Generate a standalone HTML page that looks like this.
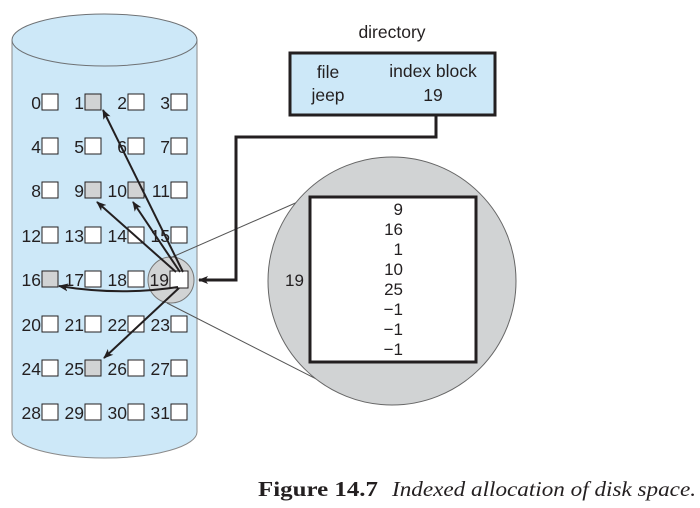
<!DOCTYPE html>
<html><head><meta charset="utf-8"><style>
html,body{margin:0;padding:0;background:#fff;}
svg{display:block;}
text{font-family:"Liberation Sans",sans-serif;fill:#231f20;}
</style></head><body>
<svg width="700" height="508" viewBox="0 0 700 508" xmlns="http://www.w3.org/2000/svg">
<defs>
<marker id="ah" markerWidth="10" markerHeight="8" refX="9" refY="4" orient="auto" markerUnits="userSpaceOnUse">
<path d="M0,0 L10,4 L0,8 L2.5,4 Z" fill="#231f20"/>
</marker>
</defs>
<path d="M12,40 L12,432 A92.5,26 0 0 0 197,432 L197,40 Z" fill="#cde8f8" stroke="#8a8a8a" stroke-width="1"/>
<ellipse cx="104.5" cy="40" rx="92.5" ry="26" fill="#cde8f8" stroke="#6f7275" stroke-width="1"/>
<ellipse cx="171" cy="280" rx="23" ry="23" fill="#d1d3d4" stroke="#777" stroke-width="1"/>
<line x1="170" y1="258" x2="300" y2="201" stroke="#555" stroke-width="1"/>
<line x1="167" y1="303" x2="334" y2="388" stroke="#555" stroke-width="1"/>
<circle cx="392" cy="281" r="124" fill="#d1d3d4" stroke="#666" stroke-width="1"/>
<rect x="310" y="197" width="166" height="165" fill="#fff" stroke="#231f20" stroke-width="3"/>
<g font-size="17" text-anchor="end">
<text x="403" y="215">9</text><text x="403" y="235">16</text><text x="403" y="255">1</text>
<text x="403" y="275">10</text><text x="403" y="295">25</text><text x="403" y="315">−1</text>
<text x="403" y="335">−1</text><text x="403" y="355">−1</text>
</g>
<text x="285" y="286" font-size="17">19</text>
<g stroke="#231f20" stroke-width="1" fill="#fff">
<rect x="42" y="94" width="16" height="16"/><rect x="85" y="94" width="16" height="16" fill="#d1d3d4"/><rect x="128" y="94" width="16" height="16"/><rect x="171" y="94" width="16" height="16"/>
<rect x="42" y="138" width="16" height="16"/><rect x="85" y="138" width="16" height="16"/><rect x="128" y="138" width="16" height="16"/><rect x="171" y="138" width="16" height="16"/>
<rect x="42" y="182" width="16" height="16"/><rect x="85" y="182" width="16" height="16" fill="#d1d3d4"/><rect x="128" y="182" width="16" height="16" fill="#d1d3d4"/><rect x="171" y="182" width="16" height="16"/>
<rect x="42" y="227" width="16" height="16"/><rect x="85" y="227" width="16" height="16"/><rect x="128" y="227" width="16" height="16"/><rect x="171" y="227" width="16" height="16"/>
<rect x="42" y="271" width="16" height="16" fill="#d1d3d4"/><rect x="85" y="271" width="16" height="16"/><rect x="128" y="271" width="16" height="16"/><rect x="170" y="271" width="18" height="17"/>
<rect x="42" y="316" width="16" height="16"/><rect x="85" y="316" width="16" height="16"/><rect x="128" y="316" width="16" height="16"/><rect x="171" y="316" width="16" height="16"/>
<rect x="42" y="360" width="16" height="16"/><rect x="85" y="360" width="16" height="16" fill="#d1d3d4"/><rect x="128" y="360" width="16" height="16"/><rect x="171" y="360" width="16" height="16"/>
<rect x="42" y="404" width="16" height="16"/><rect x="85" y="404" width="16" height="16"/><rect x="128" y="404" width="16" height="16"/><rect x="171" y="404" width="16" height="16"/>
</g>
<g font-size="17.5" text-anchor="end">
<text x="41" y="109">0</text><text x="84" y="109">1</text><text x="127" y="109">2</text><text x="170" y="109">3</text>
<text x="41" y="153">4</text><text x="84" y="153">5</text><text x="127" y="153">6</text><text x="170" y="153">7</text>
<text x="41" y="197">8</text><text x="84" y="197">9</text><text x="127" y="197">10</text><text x="170" y="197">11</text>
<text x="41" y="242">12</text><text x="84" y="242">13</text><text x="127" y="242">14</text><text x="170" y="242">15</text>
<text x="41" y="286">16</text><text x="84" y="286">17</text><text x="127" y="286">18</text><text x="169" y="286">19</text>
<text x="41" y="331">20</text><text x="84" y="331">21</text><text x="127" y="331">22</text><text x="170" y="331">23</text>
<text x="41" y="375">24</text><text x="84" y="375">25</text><text x="127" y="375">26</text><text x="170" y="375">27</text>
<text x="41" y="419">28</text><text x="84" y="419">29</text><text x="127" y="419">30</text><text x="170" y="419">31</text>
</g>
<g stroke="#231f20" stroke-width="2" fill="none" marker-end="url(#ah)">
<line x1="183" y1="272" x2="103" y2="110"/>
<line x1="176" y1="272" x2="97" y2="202"/>
<line x1="180" y1="272" x2="133" y2="202"/>
<path d="M178,287 Q120,296 59,286"/>
<line x1="179" y1="288" x2="104" y2="358"/>
</g>
<text x="392" y="38" font-size="17.5" text-anchor="middle">directory</text>
<rect x="290" y="53" width="205" height="62" fill="#cde8f8" stroke="#231f20" stroke-width="3"/>
<g font-size="17.5">
<text x="328" y="78" text-anchor="middle">file</text>
<text x="433" y="77" text-anchor="middle">index block</text>
<text x="328" y="101" text-anchor="middle">jeep</text>
<text x="433" y="101" text-anchor="middle">19</text>
</g>
<polyline points="436,116 436,137 236,137 236,280 199,280" fill="none" stroke="#231f20" stroke-width="3" marker-end="url(#ah)"/>
<text x="258" y="496" font-size="21" font-weight="bold" textLength="120" lengthAdjust="spacingAndGlyphs" style="font-family:'Liberation Serif',serif">Figure 14.7</text>
<text x="392" y="496" font-size="21" font-style="italic" textLength="304" lengthAdjust="spacingAndGlyphs" style="font-family:'Liberation Serif',serif">Indexed allocation of disk space.</text>
</svg>
</body></html>
